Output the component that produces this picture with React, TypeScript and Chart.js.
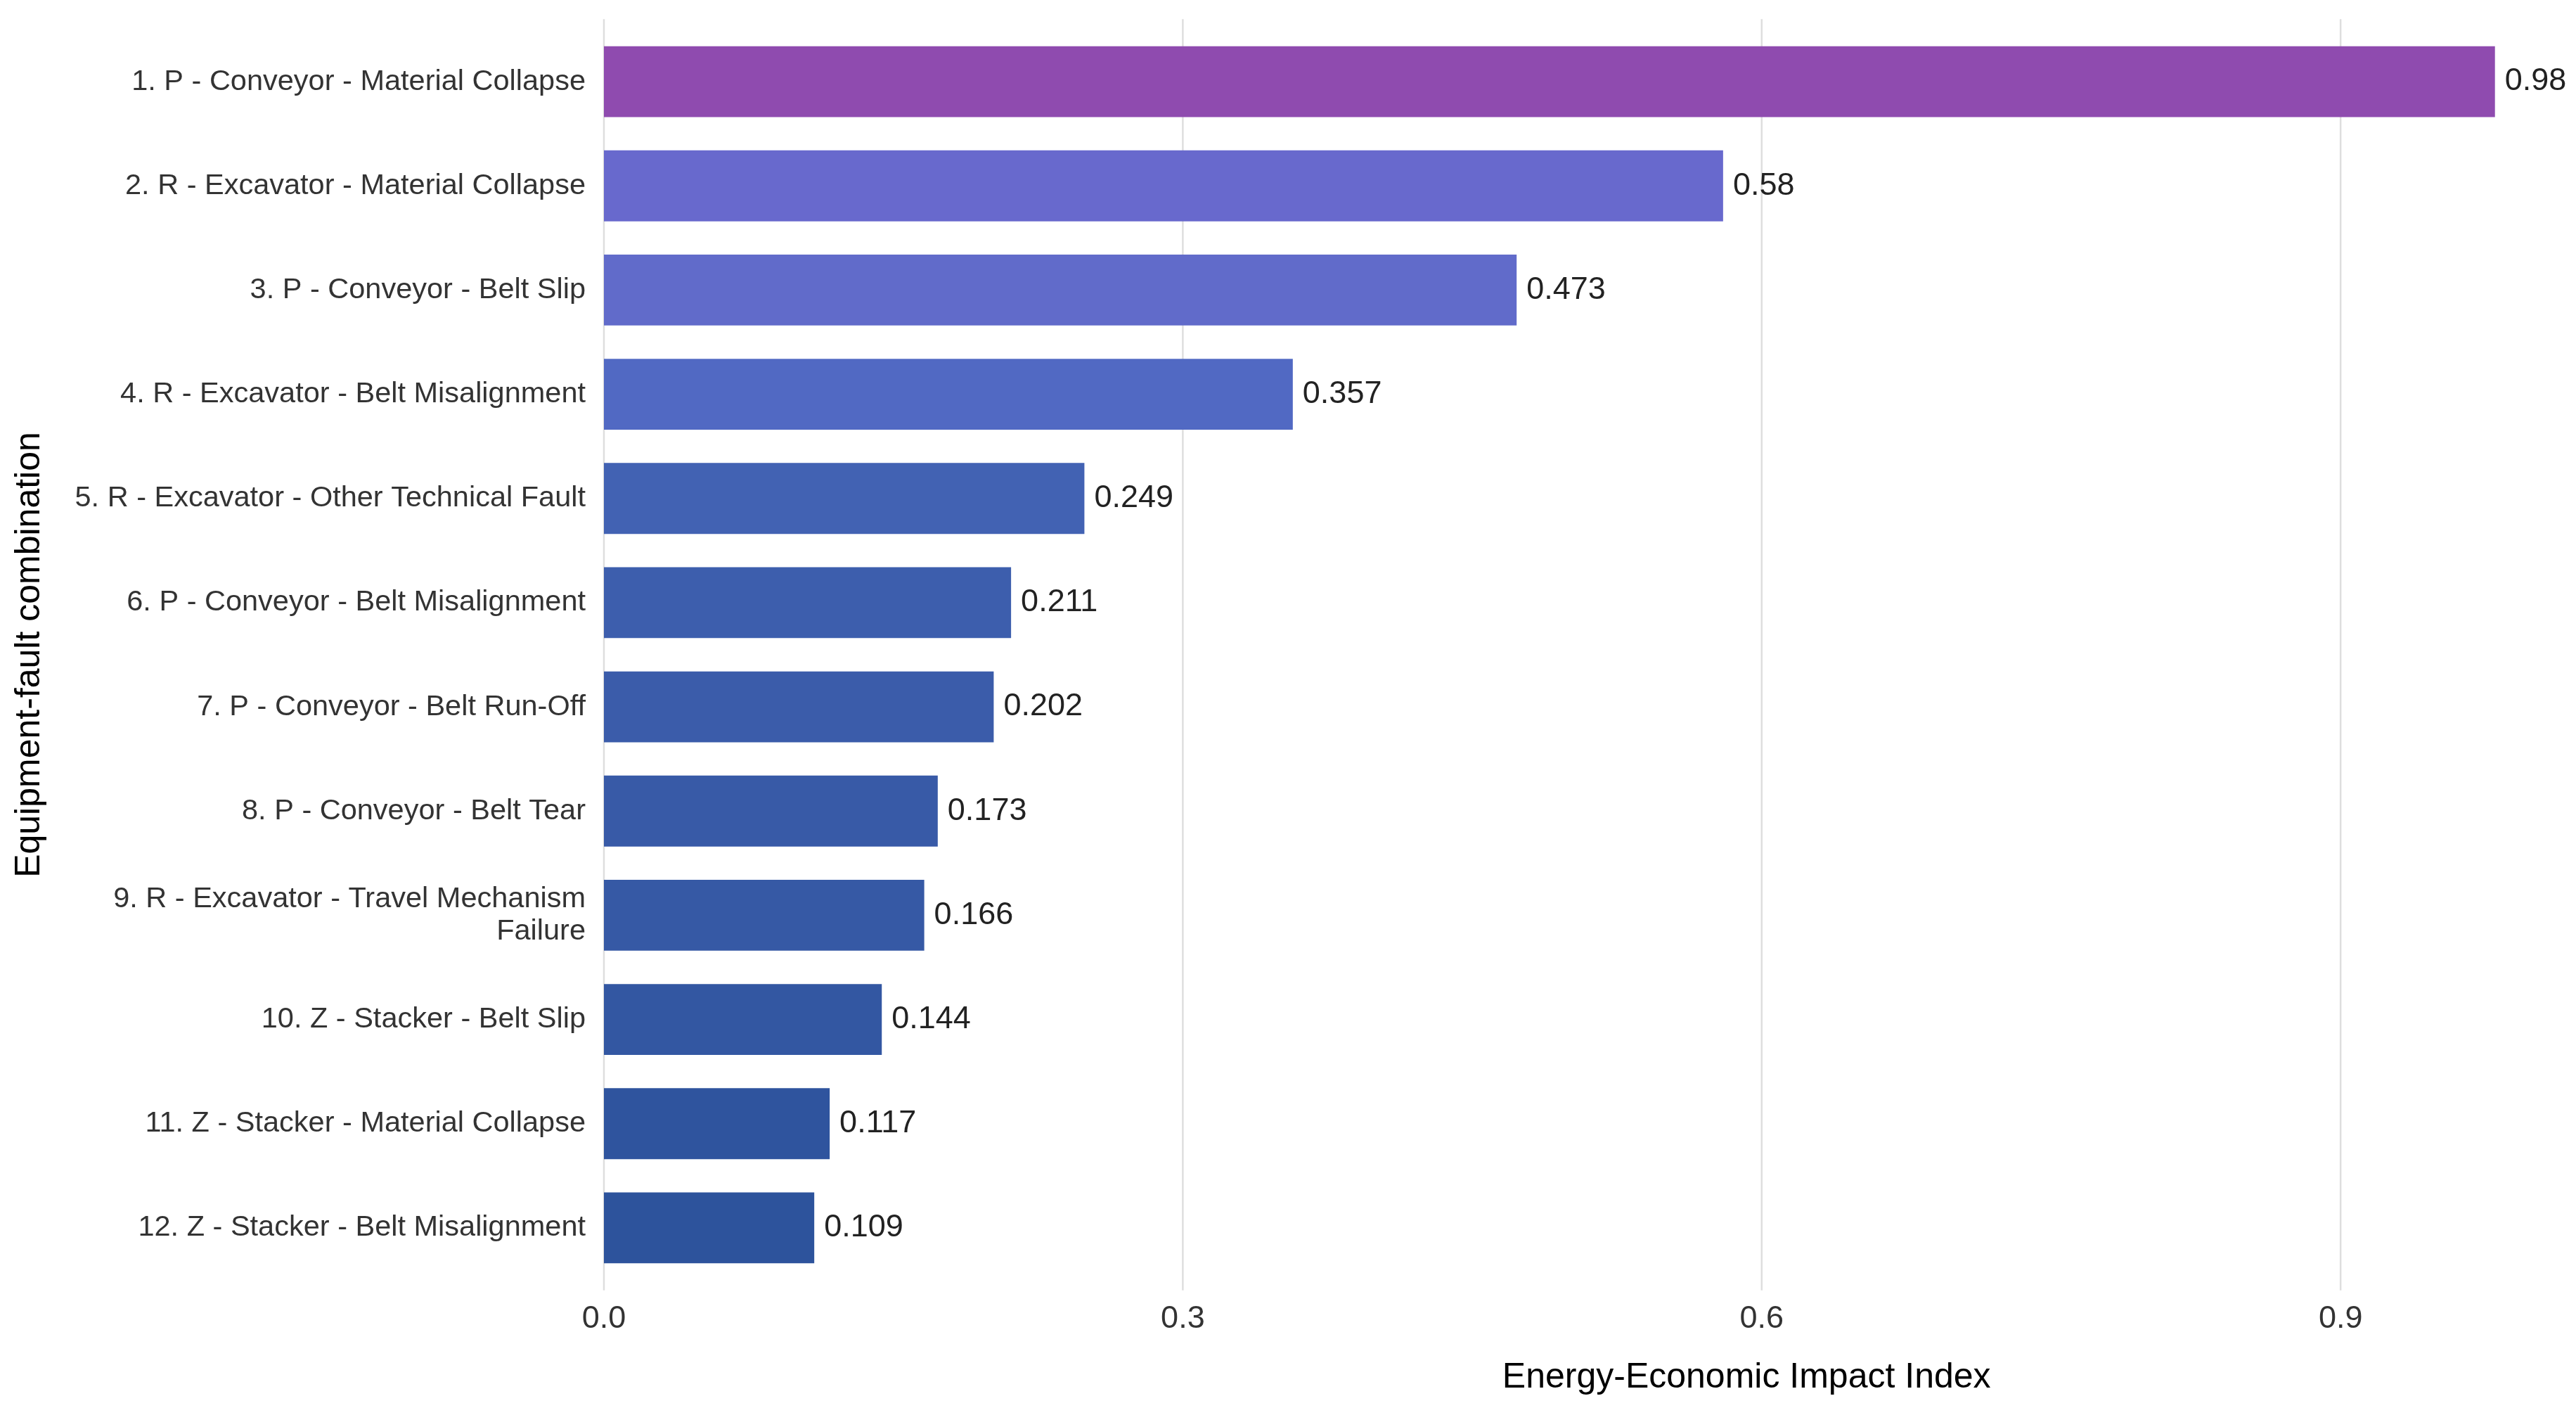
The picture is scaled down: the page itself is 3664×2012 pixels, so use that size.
import React, { useEffect, useRef } from 'react';
import { Chart, ChartConfiguration, Plugin, registerables } from 'chart.js';

Chart.register(...registerables);

// Data
const categories: (string | string[])[] = [
  '1. P - Conveyor - Material Collapse',
  '2. R - Excavator - Material Collapse',
  '3. P - Conveyor - Belt Slip',
  '4. R - Excavator - Belt Misalignment',
  '5. R - Excavator - Other Technical Fault',
  '6. P - Conveyor - Belt Misalignment',
  '7. P - Conveyor - Belt Run-Off',
  '8. P - Conveyor - Belt Tear',
  ['9. R - Excavator - Travel Mechanism', 'Failure'],
  '10. Z - Stacker - Belt Slip',
  '11. Z - Stacker - Material Collapse',
  '12. Z - Stacker - Belt Misalignment',
];

const impactValues = [0.98, 0.58, 0.473, 0.357, 0.249, 0.211, 0.202, 0.173, 0.166, 0.144, 0.117, 0.109];

const barColors = [
  '#8f4baf', '#6869cd', '#616bca', '#5169c3', '#4262b3', '#3d5ead',
  '#3b5caa', '#385aa7', '#3659a5', '#3357a2', '#2f549e', '#2d539c',
];

const xTicks = [0, 0.3, 0.6, 0.9];

const FONT = 'Arial, "Liberation Sans", Helvetica, sans-serif';

// vertical grid lines, slightly taller than the category area (ggplot-like expansion)
const gridPlugin: Plugin<'bar'> = {
  id: 'customGrid',
  beforeDatasetsDraw(chart) {
    const { ctx, chartArea, scales } = chart;
    const x = scales.x;
    const y = scales.y;
    const band = Math.abs(y.getPixelForValue(1) - y.getPixelForValue(0));
    const extra = band * 0.1;
    ctx.save();
    ctx.strokeStyle = '#dedede';
    ctx.lineWidth = 2.5;
    xTicks.forEach((t) => {
      const px = x.getPixelForValue(t);
      ctx.beginPath();
      ctx.moveTo(px, chartArea.top - extra);
      ctx.lineTo(px, chartArea.bottom + extra);
      ctx.stroke();
    });
    ctx.restore();
  },
};

const valueLabelPlugin: Plugin<'bar'> = {
  id: 'valueLabels',
  afterDatasetsDraw(chart) {
    const { ctx } = chart;
    const meta = chart.getDatasetMeta(0);
    ctx.save();
    ctx.font = `45px ${FONT}`;
    ctx.fillStyle = '#222222';
    ctx.textAlign = 'left';
    ctx.textBaseline = 'middle';
    meta.data.forEach((bar, i) => {
      const { x, y } = bar.getProps(['x', 'y'], true) as { x: number; y: number };
      ctx.fillText(String(impactValues[i]), x + 14, y);
    });
    ctx.restore();
  },
};

const xTitlePlugin: Plugin<'bar'> = {
  id: 'xTitle',
  afterDraw(chart) {
    const { ctx, chartArea } = chart;
    ctx.save();
    ctx.font = `50px ${FONT}`;
    ctx.fillStyle = '#000000';
    ctx.textAlign = 'center';
    ctx.textBaseline = 'middle';
    ctx.fillText('Energy-Economic Impact Index', chart.width * 0.678, chartArea.bottom + 139);
    ctx.restore();
  },
};

export default function App() {
  const canvasRef = useRef<HTMLCanvasElement>(null);

  useEffect(() => {
    document.body.style.margin = '0';
    document.body.style.overflow = 'hidden';
    if (!canvasRef.current) return;

    const config: ChartConfiguration<'bar'> = {
      type: 'bar',
      data: {
        labels: categories as any,
        datasets: [
          {
            label: 'Energy-Economic Impact Index',
            data: impactValues,
            backgroundColor: barColors,
            borderWidth: 0,
            barPercentage: 0.68,
            categoryPercentage: 1,
          },
        ],
      },
      options: {
        indexAxis: 'y',
        responsive: true,
        maintainAspectRatio: false,
        animation: false,
        layout: { padding: { top: 42, left: 0, right: 0, bottom: 0 } },
        plugins: {
          legend: { display: false },
          tooltip: { enabled: false },
        },
        scales: {
          x: {
            type: 'linear',
            min: 0,
            max: 1.022,
            afterFit(scale) {
              scale.height = 192;
            },
            afterBuildTicks(scale) {
              scale.ticks = xTicks.map((v) => ({ value: v }));
            },
            grid: { display: false, drawTicks: false },
            border: { display: false },
            ticks: {
              includeBounds: false,
              padding: 29,
              color: '#333333',
              font: { family: FONT, size: 45 },
              callback: (v) => Number(v).toFixed(1),
            },
          },
          y: {
            type: 'category',
            offset: true,
            afterFit(scale: any) {
              scale.width = 859;
              // let the layout padding alone decide the top of the plot area
              scale.paddingTop = 0;
              scale.paddingBottom = 0;
            },
            grid: { display: false, drawTicks: false },
            border: { display: false },
            ticks: {
              padding: 26,
              color: '#333333',
              font: { family: FONT, size: 41.5, lineHeight: 1.1 },
            },
            title: {
              display: true,
              text: 'Equipment-fault combination',
              color: '#000000',
              font: { family: FONT, size: 50 },
              padding: { top: 12, bottom: 0 },
            },
          },
        },
      },
      plugins: [gridPlugin, valueLabelPlugin, xTitlePlugin],
    };

    const chart = new Chart(canvasRef.current, config);
    return () => {
      chart.destroy();
    };
  }, []);

  return (
    <div style={{ width: '100vw', height: '100vh', position: 'relative', background: '#ffffff' }}>
      <canvas ref={canvasRef} />
    </div>
  );
}
